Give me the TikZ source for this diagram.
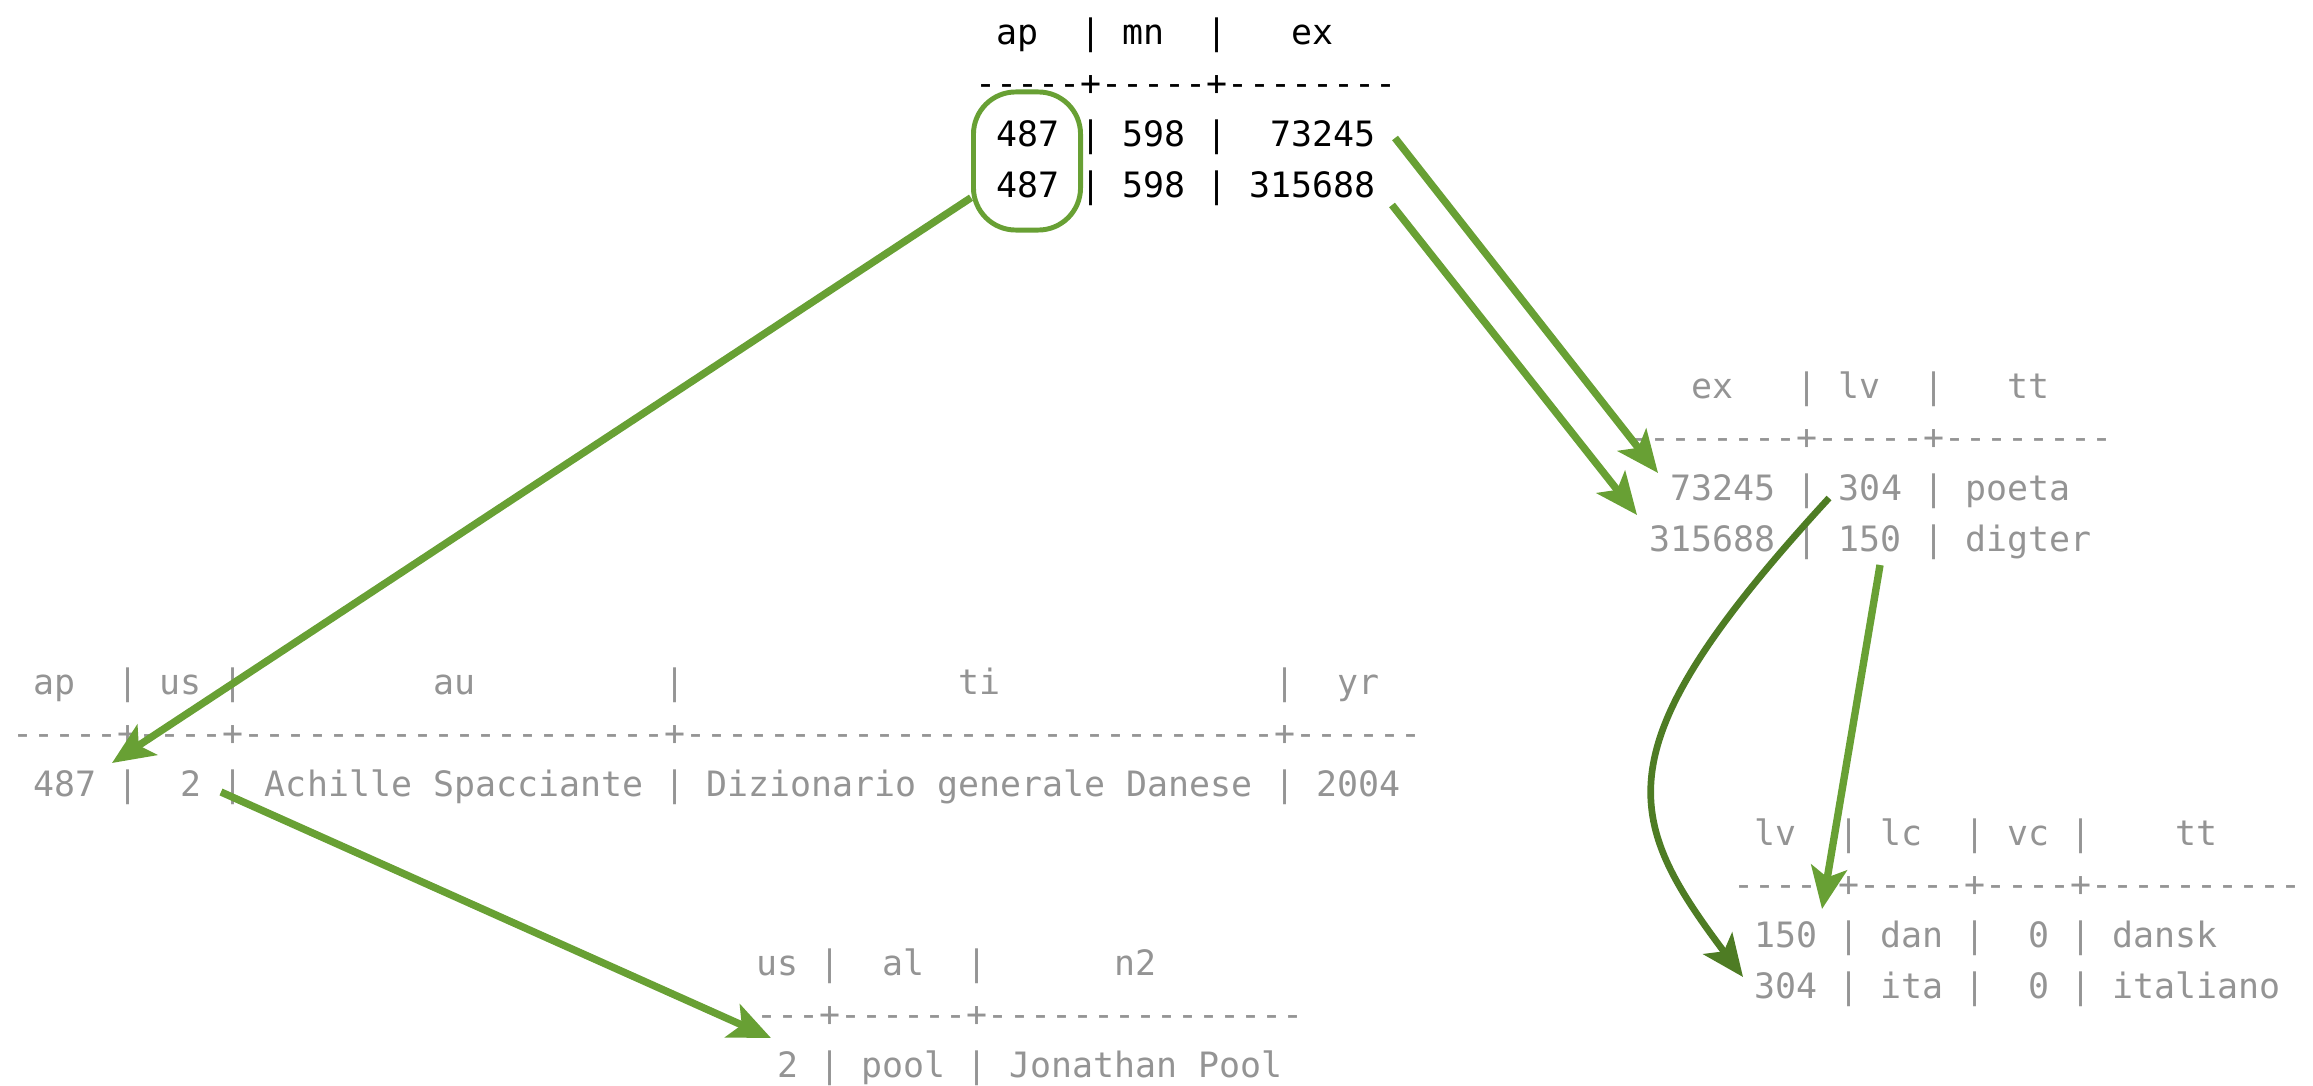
\documentclass[tikz,border=0pt]{standalone}
\usepackage{fontspec}
\setmonofont{DejaVu Sans Mono}
\usepackage{tikz}
\usetikzlibrary{arrows.meta}
\definecolor{verde}{RGB}{104,160,52}
\definecolor{verdescuro}{RGB}{78,124,36}
\definecolor{grigio}{RGB}{148,148,148}

\begin{document}
\begin{tikzpicture}[x = 0.01cm, y = -0.01cm,
    tabella/.style = {anchor = base west, inner sep = 0pt, align = left, text = grigio,
        font = \fontsize{9.93}{14.5}\selectfont\ttfamily},
    freccia/.style = {verde, line width = 2.1pt, -{Stealth[length = 0.42cm, width = 0.36cm, inset = 0.1cm]}}
]
    % Riquadro
    \useasboundingbox (0,0) rectangle (2313,1085);

    % Tabelle (base = ultima riga)
    \node[tabella, text = black] (tabApMn) at (975,197)
        {~ap~~|~mn~~|~~~ex\\-----+-----+--------\\~487~|~598~|~~73245\\~487~|~598~|~315688};
    \node[tabella] (tabExLv) at (1628,551)
        {~~~ex~~~|~lv~~|~~~tt\\--------+-----+--------\\~~73245~|~304~|~poeta\\~315688~|~150~|~digter};
    \node[tabella] (tabApUs) at (12,796)
        {~ap~~|~us~|~~~~~~~~~au~~~~~~~~~|~~~~~~~~~~~~~ti~~~~~~~~~~~~~|~~yr\\%
         -----+----+--------------------+----------------------------+------\\%
         ~487~|~~2~|~Achille~Spacciante~|~Dizionario~generale~Danese~|~2004};
    \node[tabella] (tabUsAl) at (735,1077)
        {~us~|~~al~~|~~~~~~n2\\----+------+---------------\\~~2~|~pool~|~Jonathan~Pool};
    \node[tabella] (tabLvLc) at (1733,998)
        {~lv~~|~lc~~|~vc~|~~~~tt\\-----+-----+----+----------\\~150~|~dan~|~~0~|~dansk\\~304~|~ita~|~~0~|~italiano};

    % Colonna evidenziata
    \node[draw = verde, line width = 1.4pt, rounded corners = 12pt, minimum width = 1.07cm, minimum height = 1.38cm] (box487) at (1027,161) {};

    % Estremi delle frecce
    \coordinate (ap487) at (112,763);
    \coordinate (sorg73245) at (1395,138);
    \coordinate (dest73245) at (1658,473);
    \coordinate (sorg315688) at (1392,205);
    \coordinate (dest315688) at (1637,515);
    \coordinate (lv304) at (1829,498);
    \coordinate (ita304) at (1743,977);
    \coordinate (lv150) at (1880,565);
    \coordinate (dan150) at (1822,909);
    \coordinate (us2) at (221,792);
    \coordinate (pool2) at (771,1038);

    % Frecce
    \draw[freccia] (box487) -- (ap487);
    \draw[freccia] (sorg73245) -- (dest73245);
    \draw[freccia] (sorg315688) -- (dest315688);
    \draw[freccia, verdescuro, line width = 1.9pt] (lv304) .. controls (1599,748) and (1623,817) .. (ita304);
    \draw[freccia] (lv150) -- (dan150);
    \draw[freccia] (us2) -- (pool2);
\end{tikzpicture}
\end{document}
